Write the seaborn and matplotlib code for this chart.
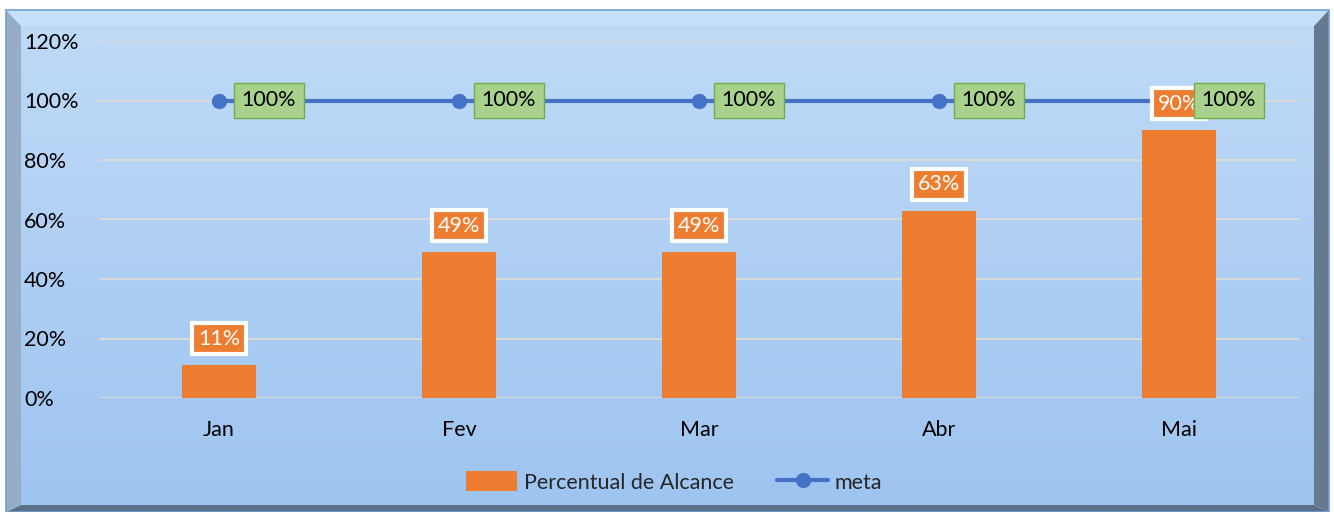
import numpy as np
import pandas as pd
import matplotlib.pyplot as plt
import seaborn as sns
from matplotlib.patches import Polygon, Rectangle
from matplotlib.lines import Line2D
from matplotlib.ticker import FuncFormatter

# ==========================================
# DATA
# ==========================================
months = ['Jan', 'Fev', 'Mar', 'Abr', 'Mai']
percentual = [0.11, 0.49, 0.49, 0.63, 0.90]
meta = [1.0, 1.0, 1.0, 1.0, 1.0]

ORANGE = '#ed7d31'
BLUE = '#4472c4'
GREEN_FILL = '#a9d18e'
GREEN_EDGE = '#70ad47'
FS = 15.5

sns.set_theme(style='white')
plt.rcParams['font.family'] = ['Lato', 'DejaVu Sans']

df = pd.DataFrame({'mes': months, 'pct': percentual, 'meta': meta})

W, H = 1334, 512
fig = plt.figure(figsize=(W / 100, H / 100), dpi=100)
fig.patch.set_facecolor('white')

# ---- bevelled frame with gradient background ----
bg = fig.add_axes([0, 0, 1, 1], zorder=0)
bg.set_xlim(0, W)
bg.set_ylim(H, 0)
bg.axis('off')
x0, y0, x1, y1 = 6, 10, 1329, 512
ix0, iy0, ix1, iy1 = 21, 26, 1314, 505
bg.add_patch(Polygon([(x0, y0), (x1, y0), (ix1, iy0), (ix0, iy0)], closed=True, fc='#c4e0fb', ec='none'))
bg.add_patch(Polygon([(x0, y0), (ix0, iy0), (ix0, iy1), (x0, y1)], closed=True, fc='#97adc7', ec='none'))
bg.add_patch(Polygon([(x1, y0), (x1, y1), (ix1, iy1), (ix1, iy0)], closed=True, fc='#65798f', ec='none'))
bg.add_patch(Polygon([(x0, y1), (x1, y1), (ix1, iy1), (ix0, iy1)], closed=True, fc='#5b6f88', ec='none'))
grad = np.linspace(0, 1, 256)[:, None]
top_c = np.array([0xbf, 0xda, 0xf7]) / 255
bot_c = np.array([0x9e, 0xc4, 0xf0]) / 255
img = top_c[None, None, :] * (1 - grad[..., None]) + bot_c[None, None, :] * grad[..., None]
img = np.repeat(img, 2, axis=1)
bg.imshow(img, extent=(ix0, ix1, iy1, iy0), aspect='auto', zorder=1)
bg.add_patch(Rectangle((x0, y0), x1 - x0, y1 - y0, fill=False, ec='#6f9fd8', lw=1.2, zorder=2))

# ---- main chart ----
ax = fig.add_axes([99 / W, (H - 398) / H, 1200 / W, 357 / H], zorder=2)
ax.set_facecolor('none')

sns.barplot(data=df, x='mes', y='pct', color=ORANGE, width=0.31, saturation=1,
            edgecolor='none', linewidth=0, ax=ax, zorder=3, label='Percentual de Alcance')
sns.lineplot(data=df, x='mes', y='meta', color=BLUE, lw=3, marker='o', markersize=11,
             markeredgewidth=0, ax=ax, zorder=4, label='meta', sort=False)

ax.set_ylim(0, 1.2)
ax.set_xlim(-0.5, 4.5)
ax.set_yticks(np.arange(0, 1.21, 0.2))
ax.yaxis.set_major_formatter(FuncFormatter(lambda v, p: f'{v:.0%}'))
ax.grid(axis='y', color='#d9d9d9', lw=1.6, zorder=0)
ax.grid(axis='x', visible=False)
for s in ax.spines.values():
    s.set_visible(False)
ax.tick_params(axis='y', length=0, labelsize=FS, pad=0, colors='black')
ax.tick_params(axis='x', length=0, labelsize=FS, pad=16, colors='black')
for lbl in ax.get_yticklabels():
    lbl.set_horizontalalignment('left')
    lbl.set_x(-75 / 1200)
ax.set_xlabel('')
ax.set_ylabel('')

# value labels
for i, (v, m) in enumerate(zip(percentual, meta)):
    ax.annotate(f'{v:.0%}', xy=(i, v), xytext=(0, 19), textcoords='offset points',
                ha='center', va='center', fontsize=FS, color='white', zorder=6,
                bbox=dict(boxstyle='square,pad=0.26', fc=ORANGE, ec='white', lw=3))
    ax.annotate(f'{m:.0%}', xy=(i, m), xytext=(36, 0), textcoords='offset points',
                ha='center', va='center', fontsize=FS, color='black', zorder=7,
                bbox=dict(boxstyle='square,pad=0.36', fc=GREEN_FILL, ec=GREEN_EDGE, lw=1))

handles = [Rectangle((0, 0), 1, 1, fc=ORANGE, ec='none'),
           Line2D([], [], color=BLUE, lw=3, marker='o', markersize=11, markeredgewidth=0)]
ax.legend(handles, ['Percentual de Alcance', 'meta'], loc='center',
          bbox_to_anchor=(0.5 - 25 / 1200, (398 - 482) / 357), ncol=2, frameon=False,
          fontsize=FS, handlelength=2.4, handleheight=1.0, handletextpad=0.3,
          columnspacing=2.0)

fig.savefig('out.png', dpi=100)
